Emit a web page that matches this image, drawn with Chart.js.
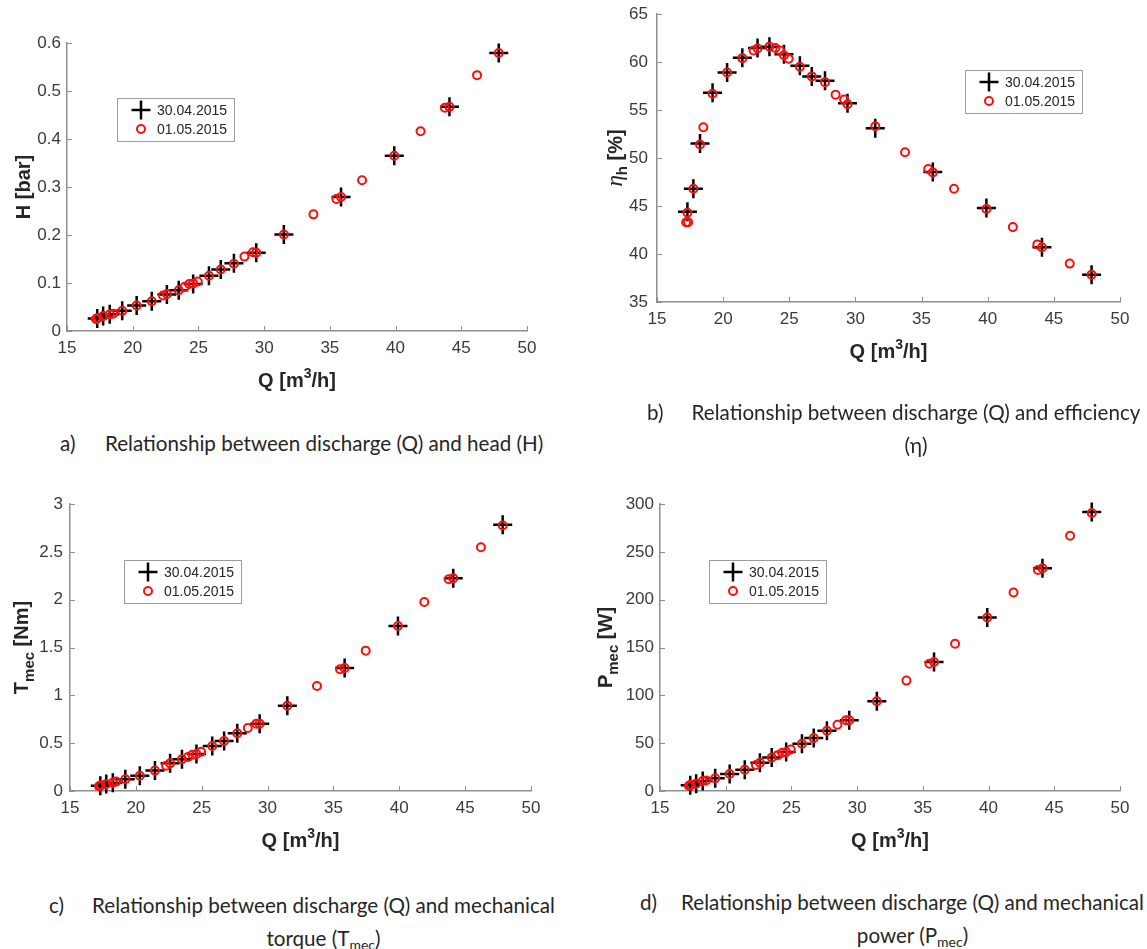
<!DOCTYPE html>
<html>
<head>
<meta charset="utf-8">
<script src="https://cdn.jsdelivr.net/npm/chart.js@4.4.0/dist/chart.umd.min.js"></script>
<style>
html,body{margin:0;padding:0;background:#fff;}
#page{position:relative;width:1147px;height:949px;overflow:hidden;background:#fff;}
#page canvas{position:absolute;}
.cap{position:absolute;font-family:Lato,"Open Sans",sans-serif;color:#262626;white-space:nowrap;}
.cap sub{font-size:0.68em;vertical-align:-0.25em;line-height:0;}
</style>
</head>
<body>
<div id="page">
  <canvas id="chA" width="573" height="400" style="left:0;top:0"></canvas>
  <canvas id="chB" width="574" height="400" style="left:573px;top:0"></canvas>
  <canvas id="chC" width="573" height="400" style="left:0;top:480px"></canvas>
  <canvas id="chD" width="574" height="400" style="left:573px;top:480px"></canvas>

  <div class="cap lab" style="left:60px;top:443px">a)</div>
  <div class="cap txt" style="left:105px;top:443px;text-align:left">Relationship between discharge (Q) and head (H)</div>

  <div class="cap lab" style="left:647px;top:412px">b)</div>
  <div class="cap txt" style="left:690px;top:412px;width:452px;text-align:center">Relationship between discharge (Q) and efficiency<br>(η)</div>

  <div class="cap lab" style="left:49px;top:905px">c)</div>
  <div class="cap txt" style="left:89px;top:905px;width:469px;text-align:center">Relationship between discharge (Q) and mechanical<br>torque (T<sub>mec</sub>)</div>

  <div class="cap lab" style="left:640px;top:902px">d)</div>
  <div class="cap txt" style="left:680px;top:902px;width:465px;text-align:center">Relationship between discharge (Q) and mechanical<br>power (P<sub>mec</sub>)</div>
</div>

<script>
// ---------------- DATA ----------------
const seriesLabels = ['30.04.2015', '01.05.2015'];

// 30.04.2015 (black plus markers)
const Q_0430   = [17.3, 17.75, 18.25, 19.2, 20.3, 21.45, 22.6, 23.5, 24.6, 25.8, 26.7, 27.7, 29.4, 31.5, 35.85, 39.9, 44.1, 47.85];
const H_0430   = [0.026, 0.031, 0.035, 0.042, 0.053, 0.062, 0.076, 0.085, 0.098, 0.115, 0.128, 0.141, 0.163, 0.201, 0.279, 0.365, 0.467, 0.579];
const Eta_0430 = [44.4, 46.8, 51.5, 56.8, 58.9, 60.45, 61.45, 61.6, 60.8, 59.6, 58.5, 58.05, 55.7, 53.1, 48.55, 44.8, 40.7, 37.85];
const T_0430   = [0.056, 0.073, 0.087, 0.122, 0.16, 0.213, 0.289, 0.331, 0.387, 0.47, 0.523, 0.603, 0.704, 0.892, 1.286, 1.725, 2.223, 2.784];
const P_0430   = [5.9, 7.6, 10.4, 13.2, 17.7, 22.2, 29.5, 35.1, 40.7, 49.3, 55.3, 62.9, 74.0, 93.8, 134.9, 181.4, 232.8, 291.7];

// 01.05.2015 (red circle markers)
const Q_0501   = [17.2, 17.3, 17.35, 17.75, 18.25, 18.5, 19.2, 20.3, 21.45, 22.3, 22.6, 23.5, 23.95, 24.3, 24.6, 24.95, 25.8, 26.7, 27.7, 28.5, 29.15, 29.4, 31.5, 33.75, 35.5, 35.85, 37.45, 39.9, 41.9, 43.75, 44.1, 46.2, 47.85];
const H_0501   = [0.025, 0.026, 0.027, 0.031, 0.035, 0.036, 0.042, 0.053, 0.062, 0.074, 0.077, 0.085, 0.092, 0.098, 0.099, 0.103, 0.115, 0.128, 0.140, 0.155, 0.164, 0.163, 0.201, 0.243, 0.275, 0.279, 0.314, 0.365, 0.416, 0.465, 0.467, 0.533, 0.579];
const Eta_0501 = [43.3, 44.3, 43.3, 46.8, 51.4, 53.2, 56.7, 58.9, 60.4, 61.2, 61.4, 61.6, 61.45, 61.2, 60.7, 60.35, 59.5, 58.5, 57.9, 56.6, 56.1, 55.6, 53.3, 50.6, 48.85, 48.5, 46.8, 44.7, 42.8, 41.0, 40.7, 39.0, 37.85];
const T_0501   = [0.05, 0.056, 0.06, 0.073, 0.087, 0.098, 0.122, 0.16, 0.213, 0.265, 0.289, 0.331, 0.355, 0.38, 0.387, 0.411, 0.47, 0.523, 0.603, 0.659, 0.704, 0.704, 0.892, 1.098, 1.272, 1.286, 1.467, 1.725, 1.976, 2.213, 2.223, 2.547, 2.775];
const P_0501   = [5.5, 5.9, 6.2, 7.6, 10.4, 11.1, 13.2, 17.7, 22.2, 27.1, 29.5, 35.1, 37.5, 40.0, 40.7, 43.4, 49.3, 55.3, 62.9, 69.2, 74.0, 74.0, 93.8, 115.4, 133.1, 134.9, 153.9, 181.4, 207.5, 231.1, 232.8, 266.9, 290.5];

// axis ranges / ticks
const xTicks   = {min: 15, max: 50, step: 5};
const yTicksH  = {min: 0, max: 0.6, step: 0.1};
const yTicksEta= {min: 35, max: 65, step: 5};
const yTicksT  = {min: 0, max: 3, step: 0.5};
const yTicksP  = {min: 0, max: 300, step: 50};

// ---------------- STYLE ----------------
const AXIS_COLOR = '#8f8f8f';
const TICK_COLOR = '#3a3a3a';
const TITLE_COLOR = '#262626';
const TICK_FONT = {family: 'Liberation Sans', size: 17};
const BOLD = 'bold 20px "Liberation Sans"';
const BOLD_SUB = 'bold 15px "Liberation Sans"';
const BLACK_STYLE = {pointStyle: 'cross', radius: 9.5, borderWidth: 2.5, color: '#000000'};
const RED_STYLE = {pointStyle: 'circle', radius: 4, borderWidth: 2, color: '#ff0d0d'};

function pts(xs, ys) { return xs.map((v, i) => ({x: v, y: ys[i]})); }

function drawRich(ctx, segs, cx, cy, rot, capSize) {
  ctx.save();
  ctx.translate(cx, cy);
  ctx.rotate(rot);
  let total = 0;
  const ws = segs.map(s => { ctx.font = s.font; const w = ctx.measureText(s.text).width; total += w; return w; });
  let xx = -total / 2;
  const base = capSize * 0.36;
  ctx.textBaseline = 'alphabetic';
  ctx.textAlign = 'left';
  ctx.fillStyle = TITLE_COLOR;
  segs.forEach((s, i) => { ctx.font = s.font; ctx.fillText(s.text, xx, base + (s.dy || 0)); xx += ws[i]; });
  ctx.restore();
}

function makeDecor(spec) {
  return {
    id: 'decor',
    afterDraw(chart) {
      const {ctx, chartArea: ca} = chart;
      const xs = chart.scales.x, ys = chart.scales.y;
      ctx.save();
      // inward ticks (MATLAB style)
      ctx.strokeStyle = AXIS_COLOR;
      ctx.lineWidth = 1;
      xs.ticks.forEach(t => {
        const px = Math.round(xs.getPixelForValue(t.value)) + 0.5;
        ctx.beginPath(); ctx.moveTo(px, ca.bottom); ctx.lineTo(px, ca.bottom - 5); ctx.stroke();
      });
      ys.ticks.forEach(t => {
        const py = Math.round(ys.getPixelForValue(t.value)) + 0.5;
        ctx.beginPath(); ctx.moveTo(ca.left, py); ctx.lineTo(ca.left + 5, py); ctx.stroke();
      });
      // axis titles
      drawRich(ctx, spec.xTitle, (ca.left + ca.right) / 2, ca.bottom + 49, 0, 20);
      drawRich(ctx, spec.yTitle, ca.left - spec.yTitleOff, (ca.top + ca.bottom) / 2, -Math.PI / 2, 20);
      // legend box
      const lx = ca.left + spec.legend.dx, ly = ca.top + spec.legend.dy;
      const lw = 117, lh = 43;
      ctx.fillStyle = '#ffffff';
      ctx.fillRect(lx, ly, lw, lh);
      ctx.strokeStyle = '#9c9c9c';
      ctx.lineWidth = 1;
      ctx.strokeRect(Math.round(lx) + 0.5, Math.round(ly) + 0.5, lw, lh);
      const rows = [12, 31];
      chart.data.datasets.forEach((ds, i) => {
        const st = i === 0 ? BLACK_STYLE : RED_STYLE;
        ctx.strokeStyle = st.color;
        ctx.fillStyle = 'rgba(0,0,0,0)';
        ctx.lineWidth = st.borderWidth;
        Chart.helpers.drawPoint(ctx, {pointStyle: st.pointStyle, radius: st.radius, rotation: 0, borderWidth: st.borderWidth}, lx + 24, ly + rows[i]);
        ctx.fillStyle = TITLE_COLOR;
        ctx.font = '14px "Liberation Sans"';
        ctx.textAlign = 'left';
        ctx.textBaseline = 'middle';
        ctx.fillText(ds.label, lx + 40, ly + rows[i] + 1);
      });
      ctx.restore();
    }
  };
}

function fmt(v) { return String(parseFloat(v.toFixed(3))); }

function noPad(s) { s.paddingTop = 0; s.paddingBottom = 0; s.paddingLeft = 0; s.paddingRight = 0; }

function makeChart(id, blackY, redY, yr, area, spec) {
  const cv = document.getElementById(id);
  const W = cv.width, Hh = cv.height;
  const YW = 50, XH = 30;
  new Chart(cv, {
    type: 'scatter',
    data: {
      datasets: [
        {label: seriesLabels[0], data: pts(Q_0430, blackY), pointStyle: BLACK_STYLE.pointStyle,
         pointRadius: BLACK_STYLE.radius, pointBorderWidth: BLACK_STYLE.borderWidth,
         borderColor: BLACK_STYLE.color, backgroundColor: BLACK_STYLE.color, order: 2, clip: false, showLine: false},
        {label: seriesLabels[1], data: pts(Q_0501, redY), pointStyle: RED_STYLE.pointStyle,
         pointRadius: RED_STYLE.radius, pointBorderWidth: RED_STYLE.borderWidth,
         borderColor: RED_STYLE.color, backgroundColor: 'rgba(0,0,0,0)', order: 1, clip: false, showLine: false}
      ]
    },
    options: {
      responsive: false, animation: false, devicePixelRatio: 1,
      events: [],
      layout: {autoPadding: false, padding: {left: area.L - YW, right: W - area.R, top: area.T, bottom: Hh - area.B - XH}},
      plugins: {legend: {display: false}, tooltip: {enabled: false}},
      scales: {
        x: {type: 'linear', min: xTicks.min, max: xTicks.max,
            ticks: {stepSize: xTicks.step, font: TICK_FONT, color: TICK_COLOR, padding: 7, maxRotation: 0, callback: fmt},
            grid: {display: true, drawOnChartArea: false, drawTicks: false},
            border: {display: true, color: AXIS_COLOR, width: 1.5},
            afterFit: s => { s.height = XH; noPad(s); }},
        y: {type: 'linear', min: yr.min, max: yr.max,
            ticks: {stepSize: yr.step, font: TICK_FONT, color: TICK_COLOR, padding: spec.yPad, callback: fmt},
            grid: {display: true, drawOnChartArea: false, drawTicks: false},
            border: {display: true, color: AXIS_COLOR, width: 1.5},
            afterFit: s => { s.width = YW; noPad(s); }}
      }
    },
    plugins: [makeDecor(spec)]
  });
}

const xTitle = [{text: 'Q [m', font: BOLD}, {text: '3', font: 'bold 14px "Liberation Sans"', dy: -9}, {text: '/h]', font: BOLD}];

makeChart('chA', H_0430, H_0501, yTicksH, {L: 67, R: 527, T: 43, B: 331}, {
  xTitle, yTitleOff: 44, yPad: 6, legend: {dx: 50, dy: 55},
  yTitle: [{text: 'H [bar]', font: BOLD}]
});
makeChart('chB', Eta_0430, Eta_0501, yTicksEta, {L: 84, R: 547, T: 14, B: 302}, {
  xTitle, yTitleOff: 42, yPad: 9, legend: {dx: 308, dy: 56},
  yTitle: [{text: 'η', font: 'italic 23px "Liberation Serif"'}, {text: 'h', font: BOLD_SUB, dy: 5}, {text: ' [%]', font: BOLD}]
});
makeChart('chC', T_0430, T_0501, yTicksT, {L: 70, R: 531, T: 24, B: 311}, {
  xTitle, yTitleOff: 49, yPad: 7, legend: {dx: 54, dy: 56},
  yTitle: [{text: 'T', font: BOLD}, {text: 'mec', font: BOLD_SUB, dy: 6}, {text: ' [Nm]', font: BOLD}]
});
makeChart('chD', P_0430, P_0501, yTicksP, {L: 87, R: 547, T: 24, B: 311}, {
  xTitle, yTitleOff: 55, yPad: 6, legend: {dx: 49, dy: 56},
  yTitle: [{text: 'P', font: BOLD}, {text: 'mec', font: BOLD_SUB, dy: 6}, {text: ' [W]', font: BOLD}]
});

// caption sizing: fit the reference line width
(function () {
  const c = document.createElement('canvas').getContext('2d');
  c.font = '100px Lato';
  const w = c.measureText('Relationship between discharge (Q) and mechanical').width;
  const size = 100 * 463 / w;
  const lh = 33;
  document.querySelectorAll('.cap').forEach(el => {
    el.style.fontSize = size.toFixed(2) + 'px';
    el.style.lineHeight = lh + 'px';
    el.style.top = (parseFloat(el.style.top) - lh / 2) + 'px';
  });
})();
</script>
</body>
</html>
